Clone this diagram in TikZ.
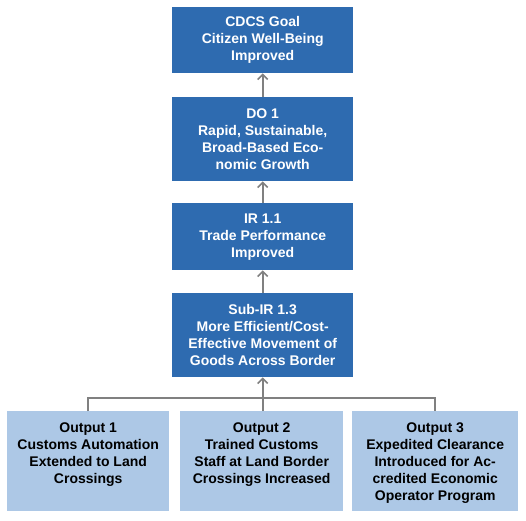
\documentclass[tikz,border=0pt]{standalone}
\usepackage{fontspec}
\setmainfont{Liberation Sans}
\usetikzlibrary{arrows.meta}
\definecolor{darkblue}{RGB}{46,107,176}
\definecolor{lightblue}{RGB}{173,200,230}
\definecolor{linegray}{RGB}{128,128,128}
\begin{document}
\begin{tikzpicture}[x=1pt,y=-1pt,
  darkbox/.style={fill=darkblue, text=white, inner sep=0pt, anchor=north west,
    align=center, font=\bfseries\fontsize{14}{17}\selectfont},
  lightbox/.style={fill=lightblue, text=black, inner sep=0pt, anchor=north west,
    align=center, minimum height=100, font=\bfseries\fontsize{14}{17}\selectfont},
  conn/.style={draw=linegray, line width=1.6pt},
  arr/.style={conn, -{Straight Barb[length=5pt,width=10pt,line width=1.6pt]}}
]
\useasboundingbox (0,0) rectangle (526,520);
\node[darkbox, minimum width=181, minimum height=66] (goal) at (172,7)
  {CDCS Goal\\Citizen Well-Being\\Improved};
\node[darkbox, minimum width=181, minimum height=84] (do) at (172,97)
  {DO 1\\Rapid, Sustainable,\\Broad-Based Eco-\\nomic Growth};
\node[darkbox, minimum width=181, minimum height=67] (ir) at (172,203)
  {IR 1.1\\Trade Performance\\Improved};
\node[darkbox, minimum width=181, minimum height=84] (sub) at (172,293)
  {Sub-IR 1.3\\More Efficient/Cost-\\Effective Movement of\\Goods Across Border};
\node[lightbox, minimum width=162] (o1) at (7,411)
  {\parbox[t][76pt][t]{158pt}{\centering Output 1\\Customs Automation\\Extended to Land\\Crossings}};
\node[lightbox, minimum width=163] (o2) at (180,411)
  {\parbox[t][76pt][t]{159pt}{\centering Output 2\\Trained Customs\\Staff at Land Border\\Crossings Increased}};
\node[lightbox, minimum width=166] (o3) at (352,411)
  {\parbox[t][76pt][t]{162pt}{\centering Output 3\\Expedited Clearance\\Introduced for Ac-\\credited Economic\\Operator Program}};
\draw[arr] (do.north) -- (goal.south);
\draw[arr] (ir.north) -- (do.south);
\draw[arr] (sub.north) -- (ir.south);
\coordinate (j) at (sub.south |- 0,398);
\draw[conn] (o1.north) |- (j) -| (o3.north);
\draw[arr] (sub.south |- o2.north) -- (sub.south);
\end{tikzpicture}
\end{document}
